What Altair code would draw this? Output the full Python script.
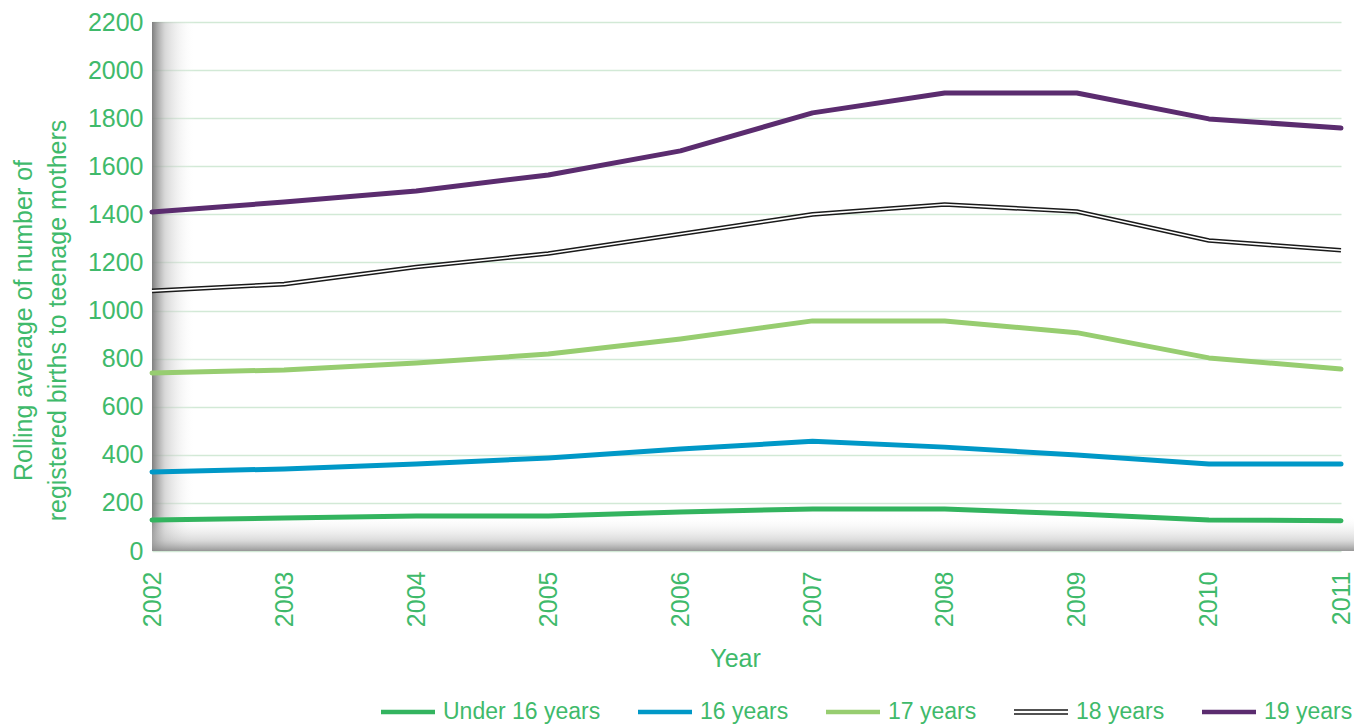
import altair as alt
import pandas as pd

years = [2002, 2003, 2004, 2005, 2006, 2007, 2008, 2009, 2010, 2011]
under16 = [129, 137, 146, 146, 162, 175, 175, 154, 129, 126]
age16 = [329, 341, 362, 387, 424, 456, 432, 399, 362, 362]
age17 = [740, 753, 782, 819, 882, 957, 957, 908, 803, 757]
age18 = [1082, 1110, 1181, 1237, 1318, 1400, 1441, 1412, 1291, 1251]
age19 = [1410, 1451, 1497, 1564, 1664, 1822, 1905, 1905, 1797, 1759]

series_names = ["Under 16 years", "16 years", "17 years", "18 years", "19 years"]
series_values = [under16, age16, age17, age18, age19]
series_colors = ["#33b45f", "#0098c7", "#97cd70", "#1a1a1a", "#5b2c6f"]
single_path = "M-1,-0.085H1V0.085H-1Z"
double_path = "M-1,-0.1H1V-0.045H-1Z M-1,0.045H1V0.1H-1Z"
series_shapes = [single_path, single_path, single_path, double_path, single_path]
y_ticks = list(range(0, 2201, 200))

TEXT = "#3fba6b"
FONT = "Liberation Sans"

rows = []
for name, vals in zip(series_names, series_values):
    for yr, v in zip(years, vals):
        rows.append({"year": yr, "value": v, "series": name})
df = pd.DataFrame(rows)

xscale = alt.Scale(domain=[2002, 2011], nice=False, zero=False)
yscale = alt.Scale(domain=[0, 2200], nice=False)

x_enc = alt.X("year:Q", scale=xscale, title="Year",
              axis=alt.Axis(values=years, format="d", labelAngle=-90, labelAlign="right",
                            labelBaseline="middle", labelPadding=20, ticks=False, domain=False,
                            grid=False, labelFontSize=25, labelColor=TEXT, labelFont=FONT,
                            titleFontSize=25, titleColor=TEXT, titleFont=FONT,
                            titleFontWeight="normal", titlePadding=20, titleX=583,
                            labelOverlap=False, labelBound=False))
y_enc = alt.Y("value:Q", scale=yscale,
              title=["Rolling average of number of", "registered births to teenage mothers"],
              axis=alt.Axis(values=y_ticks, format="d", ticks=False, domain=False, grid=True,
                            gridColor="#d2e9d6", gridWidth=1.5, labelPadding=9,
                            labelFontSize=25, labelColor=TEXT, labelFont=FONT,
                            titleFontSize=25, titleColor=TEXT, titleFont=FONT,
                            titleFontWeight="normal", titlePadding=17, titleLineHeight=34,
                            titleY=298))

base = alt.Chart(df)

# decorative shadows (in data units)
left_shadow = pd.DataFrame({"x": [2002.0], "x2": [2002.33], "y": [0], "y2": [2200]})
bottom_shadow = pd.DataFrame({"x": [2002.0], "x2": [2011.1], "y": [0], "y2": [150]})

lshadow = alt.Chart(left_shadow).mark_rect(
    fill=alt.LinearGradient(gradient="linear", x1=0, x2=1, y1=0, y2=0,
                            stops=[alt.GradientStop(color="rgba(120,120,120,0.95)", offset=0),
                                   alt.GradientStop(color="rgba(190,190,190,0.6)", offset=0.3),
                                   alt.GradientStop(color="rgba(255,255,255,0)", offset=1)])
).encode(x=alt.X("x:Q", scale=xscale), x2="x2:Q", y=alt.Y("y:Q", scale=yscale), y2="y2:Q")

bshadow = alt.Chart(bottom_shadow).mark_rect(
    fill=alt.LinearGradient(gradient="linear", x1=0, x2=0, y1=0, y2=1,
                            stops=[alt.GradientStop(color="rgba(255,255,255,0)", offset=0),
                                   alt.GradientStop(color="rgba(190,190,190,0.55)", offset=0.7),
                                   alt.GradientStop(color="rgba(140,140,140,0.9)", offset=1)])
).encode(x=alt.X("x:Q", scale=xscale), x2="x2:Q", y=alt.Y("y:Q", scale=yscale), y2="y2:Q")

layers = [lshadow, bshadow]
for name, col in zip(series_names, series_colors):
    sub = base.transform_filter(alt.datum.series == name)
    if name == "18 years":
        layers.append(sub.mark_line(strokeWidth=4.6, color=col, strokeJoin="round")
                      .encode(x=x_enc, y=y_enc))
        layers.append(sub.mark_line(strokeWidth=1.6, color="white", strokeJoin="round")
                      .encode(x=x_enc, y=y_enc))
    else:
        layers.append(sub.mark_line(strokeWidth=5, color=col, strokeCap="round",
                                    strokeJoin="round").encode(x=x_enc, y=y_enc))

legend = alt.Legend(orient="none", legendX=229, legendY=663, direction="horizontal",
                    columns=5, title=None, symbolSize=2916, symbolOpacity=1,
                    symbolStrokeWidth=0, labelFont=FONT, labelFontSize=23,
                    labelColor=TEXT, labelOffset=8, columnPadding=37, labelLimit=400)

legend_points = base.mark_point(filled=True, strokeWidth=0).encode(
    x=x_enc, y=y_enc,
    opacity=alt.value(0),
    fill=alt.Fill("series:N", scale=alt.Scale(domain=series_names, range=series_colors), legend=legend),
    shape=alt.Shape("series:N", scale=alt.Scale(domain=series_names, range=series_shapes), legend=legend),
)
layers.append(legend_points)

chart = alt.layer(*layers).properties(
    width=1189, height=529,
    autosize=alt.AutoSizeParams(type="none"),
    padding={"left": 152, "top": 22, "right": 13, "bottom": 173},
).configure(background="white").configure_view(stroke=None)

chart.save("out.html", embed_options={"renderer": "svg", "actions": False})
